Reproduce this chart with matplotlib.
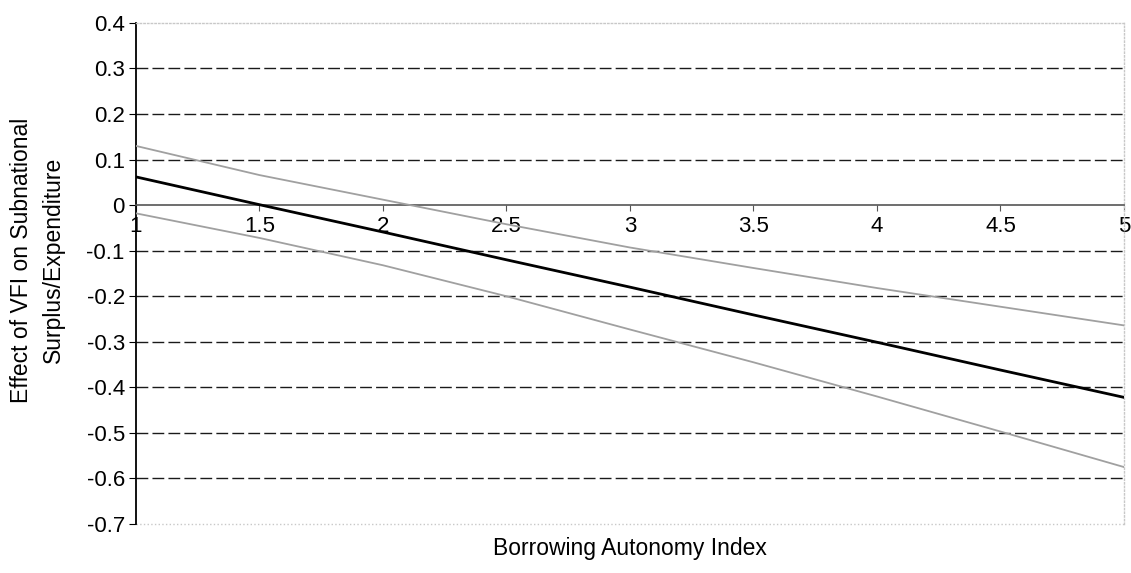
import numpy as np
import matplotlib.pyplot as plt

plt.rcParams['font.family'] = ['Liberation Sans', 'DejaVu Sans']
plt.rcParams['axes.unicode_minus'] = False

# borrowing autonomy index values where the effect was evaluated
autonomy = [1.0, 1.5, 2.0, 2.5, 3.0, 3.5, 4.0, 4.5, 5.0]
# marginal effect of VFI and its confidence band
effect = [0.062, 0.001, -0.059, -0.120, -0.180, -0.241, -0.301, -0.362, -0.422]
upper = [0.130, 0.066, 0.012, -0.042, -0.093, -0.138, -0.182, -0.223, -0.264]
lower = [-0.018, -0.072, -0.132, -0.200, -0.273, -0.345, -0.420, -0.497, -0.575]

x_ticks = [1, 1.5, 2, 2.5, 3, 3.5, 4, 4.5, 5]
x_labels = ['1', '1.5', '2', '2.5', '3', '3.5', '4', '4.5', '5']
y_ticks = [-0.7, -0.6, -0.5, -0.4, -0.3, -0.2, -0.1, 0, 0.1, 0.2, 0.3, 0.4]
y_labels = ['-0.7', '-0.6', '-0.5', '-0.4', '-0.3', '-0.2', '-0.1', '0', '0.1', '0.2', '0.3', '0.4']

fig = plt.figure(figsize=(11.31, 5.73), dpi=100)
ax = fig.add_axes([0.1202, 0.0855, 0.8736, 0.8745])

# dashed gridlines, skipping the zero axis and the plot border
for y in y_ticks:
    if y in (0, 0.4, -0.7):
        continue
    ax.axhline(y, color='#1a1a1a', lw=1.0, dashes=(8.5, 3), zorder=1)

ax.plot(autonomy, upper, color='#a0a0a0', lw=1.3, zorder=3)
ax.plot(autonomy, lower, color='#a0a0a0', lw=1.3, zorder=3)
ax.plot(autonomy, effect, color='black', lw=2.0, zorder=4)

ax.set_xlim(1, 5)
ax.set_ylim(-0.7, 0.4)

# x axis sits on the zero line
ax.spines['bottom'].set_position(('data', 0))
ax.spines['bottom'].set_color('#555555')
ax.spines['bottom'].set_linewidth(1.2)
ax.spines['left'].set_color('black')
ax.spines['left'].set_linewidth(1.3)
for side in ('top', 'right'):
    ax.spines[side].set_color('#c8c8c8')
    ax.spines[side].set_linestyle(':')
    ax.spines[side].set_linewidth(1.0)
ax.axhline(-0.7, color='#c8c8c8', ls=':', lw=1.0, clip_on=False)

ax.set_xticks(x_ticks)
ax.set_xticklabels(x_labels, fontsize=16)
ax.set_yticks(y_ticks)
ax.set_yticklabels(y_labels, fontsize=16)
ax.tick_params(axis='x', direction='out', length=4, pad=4, color='#555555')
ax.tick_params(axis='y', direction='out', length=5, pad=3)

fig.text(0.0335, 1 - 260 / 573, 'Effect of VFI on Subnational\nSurplus/Expenditure',
         rotation=90, ha='center', va='center', multialignment='center', fontsize=16.5,
         linespacing=1.5)
fig.text(0.557, 1 - 549 / 573, 'Borrowing Autonomy Index', ha='center', va='center', fontsize=16.5)

fig.savefig('out.png', dpi=100)
